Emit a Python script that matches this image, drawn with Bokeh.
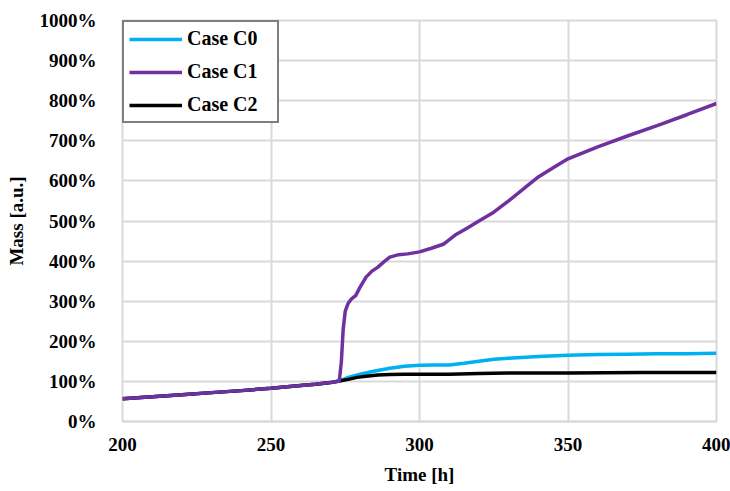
from bokeh.plotting import figure
from bokeh.models import PrintfTickFormatter, Legend, LegendItem, FixedTicker, Range1d
from bokeh.embed import file_html
from bokeh.resources import INLINE

# ---- data ----
series_names = ["Case C0", "Case C1", "Case C2"]

t_c2 = [200, 210, 220, 230, 240, 250, 260, 265, 270, 273, 276, 279, 282, 286, 290, 295, 300, 310, 320, 330, 350, 375, 400]
c2 = [57, 62, 67, 72, 77, 83, 90, 93, 97, 101, 105, 110, 113, 116, 117, 118, 118, 118, 120, 121, 121, 122, 122]

t_c0 = [200, 210, 220, 230, 240, 250, 260, 265, 270, 273, 274, 276, 280, 285, 290, 295, 300, 305, 310, 315, 320, 325, 330, 340, 350, 360, 370, 380, 390, 400]
c0 = [57, 62, 67, 72, 77, 83, 90, 93, 97, 101, 104, 110, 118, 126, 133, 138, 140, 141, 141, 145, 150, 155, 158, 162, 165, 167, 168, 169, 169, 170]

t_c1 = [200, 210, 220, 230, 240, 250, 260, 265, 270, 273, 273.7, 274.3, 275, 276, 277, 278.5, 280, 282, 284, 286, 288, 290, 293, 296, 300, 304, 308, 312, 316, 320, 325, 330, 335, 340, 345, 350, 360, 370, 380, 390, 400]
c1 = [57, 62, 67, 72, 77, 83, 90, 93, 97, 101, 150, 230, 275, 295, 305, 314, 335, 360, 375, 385, 398, 410, 416, 418, 423, 432, 442, 465, 482, 500, 522, 550, 580, 610, 633, 655, 685, 712, 738, 765, 793]

x_ticks = [200, 250, 300, 350, 400]
y_ticks = [0, 100, 200, 300, 400, 500, 600, 700, 800, 900, 1000]

colors = ["#00B0F0", "#7030A0", "#000000"]

FONT = "Liberation Serif"

p = figure(width=730, height=491, output_backend="svg", toolbar_location=None,
           x_range=Range1d(200, 400), y_range=Range1d(0, 1000),
           min_border_left=122, min_border_right=14, min_border_top=20, min_border_bottom=70)

p.background_fill_color = "white"
p.border_fill_color = "white"
p.outline_line_color = "#d9d9d9"
p.outline_line_width = 2

r0 = p.line(t_c0, c0, line_color=colors[0], line_width=3.5)
r2 = p.line(t_c2, c2, line_color=colors[2], line_width=3.5)
r1 = p.line(t_c1, c1, line_color=colors[1], line_width=3.5)

p.xaxis.ticker = FixedTicker(ticks=x_ticks)
p.yaxis.ticker = FixedTicker(ticks=y_ticks)
p.yaxis.formatter = PrintfTickFormatter(format="%d%%")

for ax in (p.xaxis[0], p.yaxis[0]):
    ax.major_tick_line_color = None
    ax.minor_tick_line_color = None
    ax.major_label_text_font = FONT
    ax.major_label_text_font_style = "bold"
    ax.major_label_text_font_size = "19px"
    ax.major_label_text_color = "black"
    ax.axis_label_text_font = FONT
    ax.axis_label_text_font_style = "bold"
    ax.axis_label_text_font_size = "19px"
    ax.axis_label_text_color = "black"

p.xaxis.axis_line_color = "#d9d9d9"
p.xaxis.axis_line_width = 2
p.yaxis.axis_line_color = None
p.xaxis.major_label_standoff = 10
p.yaxis.major_label_standoff = 20
p.xaxis.axis_label = "Time [h]"
p.yaxis.axis_label = "Mass [a.u.]"
p.xaxis.axis_label_standoff = 10
p.yaxis.axis_label_standoff = 10

p.xgrid.ticker = FixedTicker(ticks=x_ticks)
p.ygrid.ticker = FixedTicker(ticks=y_ticks)
p.grid.grid_line_color = "#d9d9d9"
p.grid.grid_line_width = 2

legend = Legend(items=[LegendItem(label=series_names[0], renderers=[r0]),
                       LegendItem(label=series_names[1], renderers=[r1]),
                       LegendItem(label=series_names[2], renderers=[r2])],
                location="top_left", orientation="vertical")
legend.border_line_color = "black"
legend.border_line_width = 2
legend.background_fill_alpha = 1.0
legend.label_text_font = FONT
legend.label_text_font_style = "bold"
legend.label_text_font_size = "20px"
legend.label_text_color = "black"
legend.glyph_width = 53
legend.glyph_height = 22
legend.label_standoff = 5
legend.label_width = 85
legend.label_height = 22
legend.spacing = 10
legend.padding = 5
legend.margin = 0
p.add_layout(legend, "center")

open("out.html", "w").write(file_html(p, INLINE))
